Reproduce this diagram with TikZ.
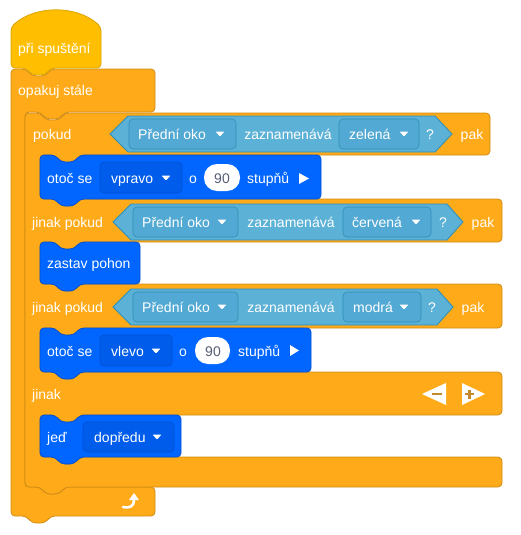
\documentclass[tikz,border=0pt]{standalone}
\usepackage{fontspec}
\setmainfont{Liberation Sans}
\usepackage{xcolor}
\usepackage{tikz}
\usetikzlibrary{arrows.meta}
\definecolor{ctrl}{HTML}{FFAB19}
\definecolor{ctrledge}{HTML}{CF8B17}
\definecolor{hat}{HTML}{FFBF00}
\definecolor{hatedge}{HTML}{D9A300}
\definecolor{sens}{HTML}{5CB1D6}
\definecolor{sensedge}{HTML}{2E8EB8}
\definecolor{sensdrop}{HTML}{52A9D3}
\definecolor{drive}{HTML}{0066FF}
\definecolor{driveedge}{HTML}{0050D0}
\definecolor{drivedrop}{HTML}{005CEB}
\definecolor{numgray}{HTML}{575E75}
\definecolor{signs}{HTML}{C4882E}
% notch along a top edge (going right) and tab along a bottom edge (going left)
\newcommand\tabright[2]{-- (#1+15,#2) -- (#1+21,#2+7) -- (#1+34,#2+7) -- (#1+40,#2)}
\newcommand\tableft[2]{-- (#1+40,#2) -- (#1+34,#2+7) -- (#1+21,#2+7) -- (#1+15,#2)}
\newcommand\ddarrow[2]{\fill[white,rounded corners=0.8pt] (#1-4.5,#2-2.5) -- (#1+4.5,#2-2.5) -- (#1,#2+2.5) -- cycle;}

\begin{document}
\begin{tikzpicture}[x=1pt,y=-1pt,font=\fontsize{14}{16}\selectfont,
  ctrlblk/.style={fill=ctrl,draw=ctrledge,line width=0.8pt,rounded corners=4pt},
  hatblk/.style={fill=hat,draw=hatedge,line width=0.8pt,rounded corners=4pt},
  driveblk/.style={fill=drive,draw=driveedge,line width=0.8pt,rounded corners=4pt},
  cond/.style={fill=sens,draw=sensedge,line width=0.8pt},
  sdrop/.style={fill=sensdrop,draw=sensedge,line width=0.6pt,rounded corners=4pt},
  bdrop/.style={fill=drivedrop,draw=driveedge,line width=0.6pt,rounded corners=4pt},
  numin/.style={fill=white,rounded corners=13pt},
  txt/.style={text=white,anchor=west,inner sep=0pt,text height=11pt,text depth=0pt},
  ctxt/.style={txt,anchor=center}]
  \fill[white] (0,0) rectangle (521,535);

  % forever loop
  \draw[ctrlblk] (11,69) \tabright{11}{69} -- (155,69) -- (155,112) \tableft{25}{112}
    -- (25,112) -- (25,487) \tabright{25}{487} -- (155,487) -- (155,516) \tableft{11}{516} -- (11,516) -- cycle;
  % hat
  \draw[hatblk] (11,68) -- (11,27) .. controls (35,5) and (77,5) .. (101,27)
    -- (101,68) \tableft{11}{68} -- cycle;
  % if / else if / else
  \draw[ctrlblk] (25,113) \tabright{25}{113} -- (490,113) -- (490,155) \tableft{40}{155}
    -- (40,155) -- (40,199) \tabright{40}{199} -- (502,199) -- (502,242) \tableft{40}{242}
    -- (40,242) -- (40,284) \tabright{40}{284} -- (502,284) -- (502,328) \tableft{40}{328}
    -- (40,328) -- (40,372) \tabright{40}{372} -- (502,372) -- (502,415) \tableft{40}{415}
    -- (40,415) -- (40,457) \tabright{40}{457} -- (502,457) -- (502,487) \tableft{25}{487}
    -- (25,487) -- cycle;

  % drivetrain blocks
  \draw[driveblk] (40,155) \tabright{40}{155} -- (321,155) -- (321,199) \tableft{40}{199} -- (40,199) -- cycle;
  \draw[driveblk] (40,242) \tabright{40}{242} -- (140,242) -- (140,284) \tableft{40}{284} -- (40,284) -- cycle;
  \draw[driveblk] (40,328) \tabright{40}{328} -- (311,328) -- (311,372) \tableft{40}{372} -- (40,372) -- cycle;
  \draw[driveblk] (40,415) \tabright{40}{415} -- (181,415) -- (181,457) \tableft{40}{457} -- (40,457) -- cycle;

  % conditions
  \draw[cond] (110,134) -- (128,116) -- (435,116) -- (452,134) -- (435,152) -- (128,152) -- cycle;
  \draw[cond] (113,222) -- (131,204) -- (447,204) -- (463,222) -- (447,240) -- (131,240) -- cycle;
  \draw[cond] (113,307) -- (131,289) -- (437,289) -- (453,307) -- (437,325) -- (131,325) -- cycle;
  \draw[sdrop] (129,119) rectangle (236,149);
  \draw[sdrop] (339,119) rectangle (419,149);
  \draw[sdrop] (133,207) rectangle (238,237);
  \draw[sdrop] (343,207) rectangle (431,237);
  \draw[sdrop] (133,292) rectangle (238,322);
  \draw[sdrop] (343,292) rectangle (421,322);

  % inputs
  \draw[bdrop] (100,162) rectangle (182,193);
  \draw[bdrop] (100,335) rectangle (172,366);
  \draw[bdrop] (83,422) rectangle (174,452);
  \fill[numin] (204,164) rectangle (240,191);
  \fill[numin] (195,337) rectangle (230,364);

  \ddarrow{220}{134} \ddarrow{404}{134}
  \ddarrow{222}{222} \ddarrow{416}{222}
  \ddarrow{222}{307} \ddarrow{404}{307}
  \ddarrow{166}{178} \ddarrow{156}{351} \ddarrow{157}{437}
  \fill[white] (299,173) -- (309,178.5) -- (299,184) -- cycle;
  \fill[white] (290,345) -- (299,350.5) -- (290,356) -- cycle;

  % texts
  \node[txt] (start) at (18,48) {při spuštění};
  \node[txt] (forever) at (18,90) {opakuj stále};
  \node[txt] (if1) at (33,134) {pokud};
  \node[txt] (eye1) at (138,134) {Přední oko};
  \node[ctxt] (det1) at (288,134) {zaznamenává};
  \node[txt] (col1) at (349,134) {zelená};
  \node[ctxt] (q1) at (430,134) {?};
  \node[ctxt] (then1) at (472,134) {pak};
  \node[txt] (turn1) at (47,178) {otoč se};
  \node[txt] (dir1) at (111,178) {vpravo};
  \node[ctxt] (by1) at (193,178) {o};
  \node[ctxt,text=numgray] (deg1) at (222,178) {90};
  \node[txt] (unit1) at (247,178) {stupňů};
  \node[txt] (if2) at (32,222) {jinak pokud};
  \node[txt] (eye2) at (142,222) {Přední oko};
  \node[ctxt] (det2) at (291,222) {zaznamenává};
  \node[txt] (col2) at (352,222) {červená};
  \node[ctxt] (q2) at (443,222) {?};
  \node[ctxt] (then2) at (483,222) {pak};
  \node[txt] (stop) at (47,263) {zastav pohon};
  \node[txt] (if3) at (32,307) {jinak pokud};
  \node[txt] (eye3) at (142,307) {Přední oko};
  \node[ctxt] (det3) at (291,307) {zaznamenává};
  \node[txt] (col3) at (353,307) {modrá};
  \node[ctxt] (q3) at (432,307) {?};
  \node[ctxt] (then3) at (473,307) {pak};
  \node[txt] (turn2) at (47,351) {otoč se};
  \node[txt] (dir2) at (111,351) {vlevo};
  \node[ctxt] (by2) at (183,351) {o};
  \node[ctxt,text=numgray] (deg2) at (213,351) {90};
  \node[txt] (unit2) at (238,351) {stupňů};
  \node[txt] (else) at (32,394) {jinak};
  \node[txt] (drive) at (47,437) {jeď};
  \node[txt] (fwd) at (94,437) {dopředu};

  % minus / plus
  \fill[white] (422,394) -- (446,383) -- (446,405) -- cycle;
  \fill[signs] (432,392.8) rectangle (442,395.2);
  \fill[white] (462,383) -- (485,394) -- (462,405) -- cycle;
  \fill[signs] (465,392.8) rectangle (474,395.2);
  \fill[signs] (468.3,389.5) rectangle (470.7,398.5);

  % loop arrow
  \draw[white,line width=2.6pt,line cap=round]
    (123,507) .. controls (130,508.5) and (134,506) .. (134,500);
  \fill[white] (134,493) -- (139,500) -- (129,500) -- cycle;
\end{tikzpicture}
\end{document}
